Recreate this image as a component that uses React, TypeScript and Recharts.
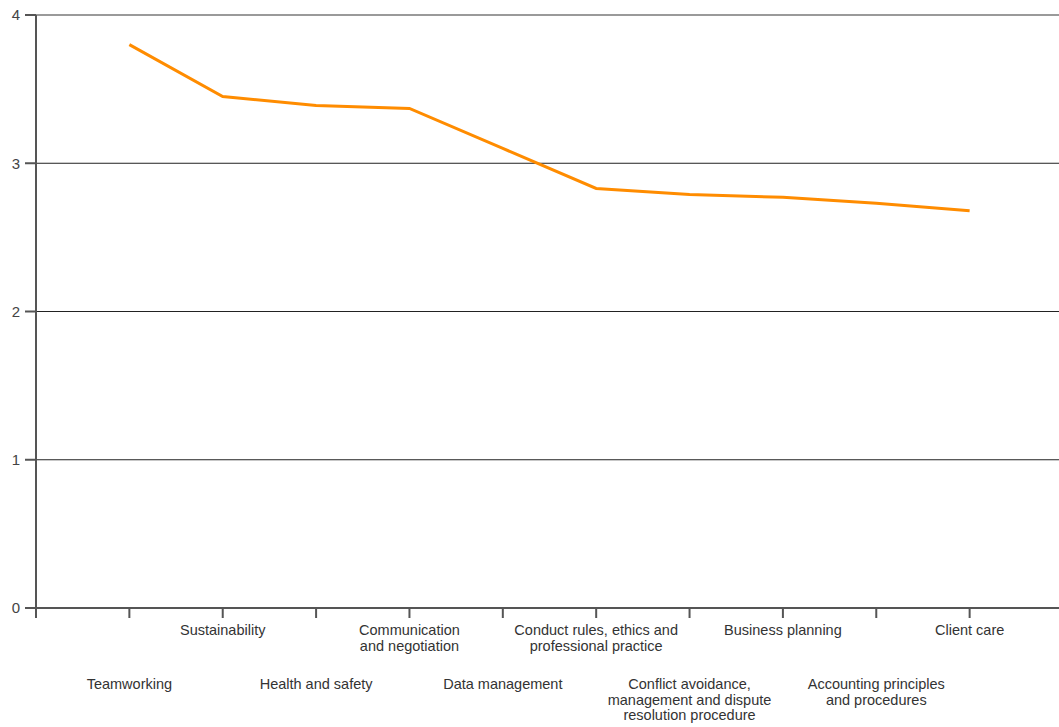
import { CartesianGrid, Line, LineChart, ReferenceLine, XAxis, YAxis } from "recharts";

const categories = [
  "Teamworking",
  "Sustainability",
  "Health and safety",
  "Communication\nand negotiation",
  "Data management",
  "Conduct rules, ethics and\nprofessional practice",
  "Conflict avoidance,\nmanagement and dispute\nresolution procedure",
  "Business planning",
  "Accounting principles\nand procedures",
  "Client care",
];
const scores = [3.8, 3.45, 3.39, 3.37, 3.1, 2.83, 2.79, 2.77, 2.73, 2.68];
const xTicks = [0, 1, 2, 3, 4, 5, 6, 7, 8, 9, 10];
const yTicks = [0, 1, 2, 3, 4];

const data = categories.map((name, i) => ({ pos: i + 1, name, score: scores[i] }));

const FONT = "'Liberation Sans', Arial, sans-serif";

function CategoryTick(props: any) {
  const { x, y, payload } = props;
  const idx = payload.value - 1;
  if (idx < 0 || idx >= categories.length) return null;
  const lines = categories[idx].split("\n");
  // odd entries go on the lower row, even ones on the upper row
  const top = idx % 2 === 0 ? y + 69 : y + 15;
  return (
    <text x={x} y={top} textAnchor="middle" fontSize={14.5} fontFamily={FONT} fill="#333">
      {lines.map((l, i) => (
        <tspan key={i} x={x} dy={i === 0 ? 0 : 15.5}>
          {l}
        </tspan>
      ))}
    </text>
  );
}

export default function App() {
  return (
    <div style={{ position: "absolute", left: 0, top: 0, width: 1059, height: 727, overflow: "hidden", background: "#fff" }}>
      <LineChart width={1070} height={727} data={data} margin={{ top: 15, right: 7, bottom: 0, left: 0 }}>
        <CartesianGrid vertical={false} stroke="#222" strokeWidth={1} />
        <ReferenceLine y={4} stroke="#9a9a9a" strokeWidth={2} />
        <XAxis
          dataKey="pos"
          type="number"
          domain={[0, 11]}
          ticks={xTicks}
          interval={0}
          height={119}
          tickSize={10}
          stroke="#555"
          strokeWidth={2}
          tick={<CategoryTick />}
        />
        <YAxis
          domain={[0, 4]}
          ticks={yTicks}
          width={36}
          tickSize={11}
          tickMargin={5}
          stroke="#555"
          strokeWidth={2}
          tick={{ fontSize: 15, fontFamily: FONT, fill: "#444" }}
        />
        <Line
          type="linear"
          dataKey="score"
          stroke="#FF8C00"
          strokeWidth={3}
          dot={false}
          isAnimationActive={false}
        />
      </LineChart>
    </div>
  );
}
